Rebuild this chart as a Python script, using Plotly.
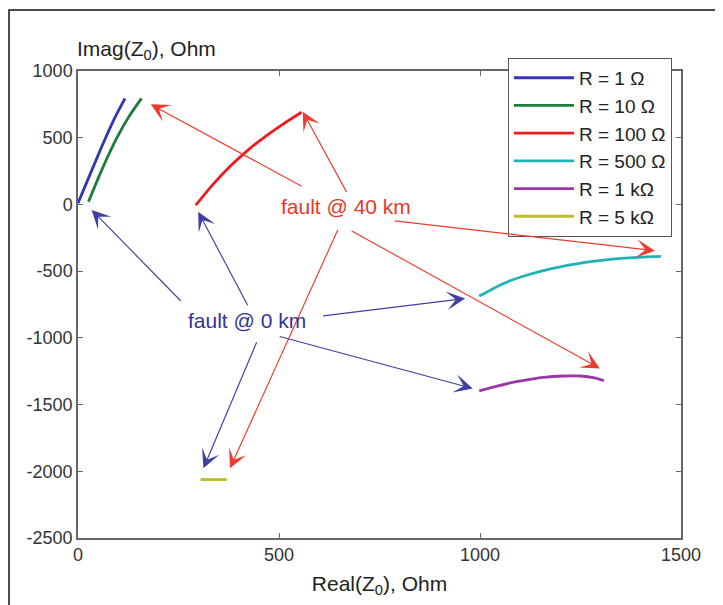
import plotly.graph_objects as go

# ---------------- data ----------------
series_names = ["R = 1 Ω", "R = 10 Ω", "R = 100 Ω", "R = 500 Ω", "R = 1 kΩ", "R = 5 kΩ"]

r1_real = [0, 30, 60, 90, 117]
r1_imag = [10, 225, 440, 640, 795]

r10_real = [26, 60, 95, 128, 158]
r10_imag = [20, 265, 490, 665, 795]

r100_real = [293, 337, 381, 425, 469, 513, 556]
r100_imag = [-5, 154, 293, 413, 516, 608, 691]

r500_real = [998, 1030, 1075, 1120, 1158, 1200, 1240, 1280, 1323, 1380, 1450]
r500_imag = [-687, -635, -572, -527, -496, -468, -446, -427, -411, -398, -390]

r1k_real = [998, 1040, 1075, 1120, 1158, 1207, 1250, 1285, 1308]
r1k_imag = [-1397, -1364, -1338, -1313, -1296, -1286, -1286, -1300, -1320]

r5k_real = [305, 370]
r5k_imag = [-2062, -2062]

x_tick_vals = [0, 500, 1000, 1500]
x_tick_text = ["0", "500", "1000", "1500"]
y_tick_vals = [1000, 500, 0, -500, -1000, -1500, -2000, -2500]
y_tick_text = ["1000", "500", "0", "-500", "-1000", "-1500", "-2000", "-2500"]

# annotation label positions (data coords)
label_40km = ("fault @ 40 km", 666, -17)
label_0km = ("fault @ 0 km", 421, -872)

# arrows: (tail_x, tail_y, tip_x, tip_y)
arrows_40km = [
    (560, 130, 181, 750),
    (670, 83, 559, 695),
    (784, -122, 1435, -347),
    (677, -192, 1298, -1229),
    (648, -179, 378, -1978),
]
arrows_0km = [
    (259, -733, 34, -42),
    (424, -767, 299, -55),
    (606, -837, 963, -705),
    (498, -987, 982, -1379),
    (446, -1022, 312, -1978),
]

colors = ["#3434b4", "#1e7d38", "#f01a1e", "#1fb3b8", "#9a38a6", "#bcbc2c"]

FONT = "Liberation Sans, Arial, sans-serif"

fig = go.Figure()
xs = [r1_real, r10_real, r100_real, r500_real, r1k_real, r5k_real]
ys = [r1_imag, r10_imag, r100_imag, r500_imag, r1k_imag, r5k_imag]
for i, (name, x, y, c) in enumerate(zip(series_names, xs, ys, colors)):
    fig.add_trace(go.Scatter(
        x=x, y=y, mode="lines", name=name, legendgroup=f"g{i}",
        line=dict(color=c, width=2.8, shape="spline", smoothing=0.6),
    ))

annotations = []
for (ax, ay, x, y) in arrows_40km:
    annotations.append(dict(
        x=x, y=y, ax=ax, ay=ay, xref="x", yref="y", axref="x", ayref="y",
        text="", showarrow=True, arrowhead=3, arrowsize=2.7, arrowwidth=1.15,
        arrowcolor="#ef3a2c", standoff=0, startstandoff=0,
    ))
for (ax, ay, x, y) in arrows_0km:
    annotations.append(dict(
        x=x, y=y, ax=ax, ay=ay, xref="x", yref="y", axref="x", ayref="y",
        text="", showarrow=True, arrowhead=3, arrowsize=2.7, arrowwidth=1.15,
        arrowcolor="#3f3fa4", standoff=0, startstandoff=0,
    ))
annotations.append(dict(
    x=label_40km[1], y=label_40km[2], xref="x", yref="y", text=label_40km[0],
    showarrow=False, font=dict(family=FONT, size=21, color="#ec3528"),
))
annotations.append(dict(
    x=label_0km[1], y=label_0km[2], xref="x", yref="y", text=label_0km[0],
    showarrow=False, font=dict(family=FONT, size=21, color="#33339a"),
))
annotations.append(dict(
    x=-0.005, y=1.045, xref="paper", yref="paper", xanchor="left", yanchor="middle",
    text="Imag(Z<sub>0</sub>), Ohm", showarrow=False,
    font=dict(family=FONT, size=21, color="#222222"),
))

fig.update_layout(
    width=715, height=597,
    margin=dict(l=70, r=42, t=63, b=67),
    paper_bgcolor="white", plot_bgcolor="white",
    font=dict(family=FONT, size=18, color="#333333"),
    showlegend=True,
    legend=dict(
        x=0.713, y=1.028, xanchor="left", yanchor="top",
        bgcolor="white", bordercolor="#555555", borderwidth=1,
        font=dict(family=FONT, size=19, color="#222222"),
        tracegroupgap=0, itemwidth=60,
    ),
    annotations=annotations,
    shapes=[dict(
        type="rect", xref="paper", yref="paper",
        x0=-0.1144, x1=1.0663, y0=-0.16, y1=1.1306,
        line=dict(color="#111111", width=1.5), fillcolor="rgba(0,0,0,0)",
        layer="below",
    )],
)
fig.update_xaxes(
    range=[0, 1500], tickvals=x_tick_vals, ticktext=x_tick_text,
    showgrid=False, zeroline=False, showline=True, linecolor="#666666", linewidth=1.5,
    mirror="allticks", ticks="inside", ticklen=5, tickcolor="#666666",
    tickfont=dict(family=FONT, size=18, color="#333333"),
    title=dict(text="Real(Z<sub>0</sub>), Ohm", standoff=12,
               font=dict(family=FONT, size=21, color="#222222")),
)
fig.update_yaxes(
    range=[-2500, 1000], tickvals=y_tick_vals, ticktext=y_tick_text,
    showgrid=False, zeroline=False, showline=True, linecolor="#666666", linewidth=1.5,
    mirror="allticks", ticks="inside", ticklen=5, tickcolor="#666666",
    tickfont=dict(family=FONT, size=18, color="#333333"),
)

fig.write_html("out.html")
